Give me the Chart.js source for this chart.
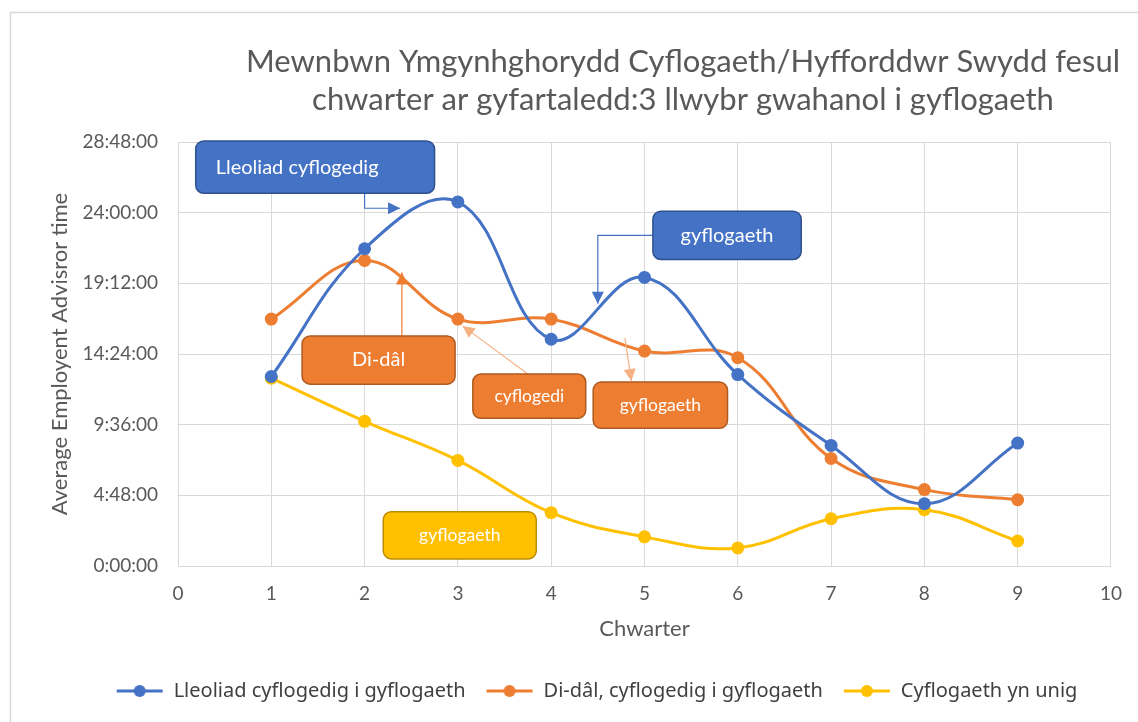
<!DOCTYPE html>
<html>
<head>
<meta charset="utf-8">
<script src="https://cdn.jsdelivr.net/npm/chart.js@4.4.1/dist/chart.umd.min.js"></script>
<style>
  html, body { margin: 0; padding: 0; background: #fff; }
  #wrap { position: relative; width: 1138px; height: 722px; }
</style>
</head>
<body>
<div id="wrap"><canvas id="quarterChart" width="1138" height="722"></canvas></div>
<script>
const quarters = [1, 2, 3, 4, 5, 6, 7, 8, 9];
// average advisor time per quarter, in hours
const lleoliadHours = [12.87, 21.55, 24.73, 15.4, 19.6, 13.0, 8.19, 4.23, 8.35];
const diDalHours = [16.77, 20.75, 16.77, 16.77, 14.6, 14.15, 7.3, 5.19, 4.5];
const unigHours = [12.76, 9.83, 7.17, 3.62, 1.98, 1.23, 3.21, 3.82, 1.7];

const seriesLabels = ["Lleoliad cyflogedig i gyflogaeth", "Di-dâl, cyflogedig i gyflogaeth", "Cyflogaeth yn unig"];
const titleLines = ["Mewnbwn Ymgynhghorydd Cyflogaeth/Hyfforddwr Swydd fesul", "chwarter ar gyfartaledd:3 llwybr gwahanol i gyflogaeth"];

const BLUE = '#4472C4';
const ORANGE = '#ED7D31';
const YELLOW = '#FFC000';
const TEXT = '#595959';
const FONT = 'Lato, "Open Sans", sans-serif';

// callout boxes in data units (x = quarter, y = hours)
const callouts = [
    { text: 'Lleoliad cyflogedig', box: [0.19, 2.75, 28.87, 25.32], fill: BLUE, stroke: '#2F528F', size: 20,
      leader: [[2.0, 25.32], [2.0, 24.3], [2.38, 24.3]], leaderColor: BLUE },
    { text: 'gyflogaeth', box: [5.09, 6.68, 24.1, 20.82], fill: BLUE, stroke: '#2F528F', size: 20,
      leader: [[5.09, 22.46], [4.5, 22.46], [4.5, 17.82]], leaderColor: BLUE },
    { text: 'Di-dâl', box: [1.33, 2.97, 15.63, 12.35], fill: ORANGE, stroke: '#AE5A21', size: 20,
      leader: [[2.4, 15.63], [2.4, 19.93]], leaderColor: ORANGE },
    { text: 'cyflogedi', box: [3.16, 4.37, 13.04, 10.03], fill: ORANGE, stroke: '#AE5A21', size: 17.5,
      leader: [[3.75, 13.04], [3.05, 16.31]], leaderColor: '#F4B183' },
    { text: 'gyflogaeth', box: [4.45, 5.89, 12.49, 9.35], fill: ORANGE, stroke: '#AE5A21', size: 17.5,
      leader: [[4.79, 15.49], [4.86, 12.56]], leaderColor: '#F4B183' },
    { text: 'gyflogaeth', box: [2.2, 3.84, 3.69, 0.48], fill: YELLOW, stroke: '#BC8C00', size: 17.5,
      leader: null }
];

function hms(v) {
    const s = Math.round(v * 3600);
    const h = Math.floor(s / 3600);
    const m = Math.floor((s % 3600) / 60);
    const sec = s % 60;
    return h + ':' + String(m).padStart(2, '0') + ':' + String(sec).padStart(2, '0');
}

function legendMarker(color) {
    const c = document.createElement('canvas');
    c.width = 48; c.height = 14;
    const g = c.getContext('2d');
    g.strokeStyle = color;
    g.lineWidth = 3;
    g.beginPath(); g.moveTo(1, 7); g.lineTo(47, 7); g.stroke();
    g.fillStyle = color;
    g.beginPath(); g.arc(24, 7, 6, 0, Math.PI * 2); g.fill();
    return c;
}
const markers = [legendMarker(BLUE), legendMarker(ORANGE), legendMarker(YELLOW)];

function toPoints(values) {
    return quarters.map((q, i) => ({ x: q, y: values[i] }));
}

function makeSet(label, values, color) {
    return {
        label: label,
        data: toPoints(values),
        borderColor: color,
        backgroundColor: color,
        borderWidth: 3,
        tension: 0.4,
        pointRadius: 6.5,
        pointHoverRadius: 6.5,
        pointBorderWidth: 0
    };
}

const framePlugin = {
    id: 'framePlugin',
    afterLayout(chart) {
        // legend sits a bit right of the canvas centre in the original
        chart.legend.left += 16;
        chart.legend.right += 16;
    },
    beforeDraw(chart) {
        const c = chart.ctx;
        c.save();
        c.strokeStyle = '#d9d9d9';
        c.lineWidth = 1.5;
        c.beginPath();
        c.moveTo(10.5, 722);
        c.lineTo(10.5, 12.5);
        c.lineTo(1138, 12.5);
        c.stroke();
        c.restore();
    },
    afterDraw(chart) {
        const c = chart.ctx;
        c.save();
        c.fillStyle = TEXT;
        c.font = '31px ' + FONT;
        c.textAlign = 'center';
        c.textBaseline = 'middle';
        c.fillText(titleLines[0], 683, 62);
        c.fillText(titleLines[1], 683, 100);
        c.restore();
    }
};

function arrowHead(c, from, to, color) {
    const ang = Math.atan2(to[1] - from[1], to[0] - from[0]);
    const len = 12, half = 6;
    c.fillStyle = color;
    c.beginPath();
    c.moveTo(to[0], to[1]);
    c.lineTo(to[0] - len * Math.cos(ang) + half * Math.sin(ang), to[1] - len * Math.sin(ang) - half * Math.cos(ang));
    c.lineTo(to[0] - len * Math.cos(ang) - half * Math.sin(ang), to[1] - len * Math.sin(ang) + half * Math.cos(ang));
    c.closePath();
    c.fill();
}

const calloutPlugin = {
    id: 'calloutPlugin',
    afterDatasetsDraw(chart) {
        const c = chart.ctx;
        const xs = chart.scales.x, ys = chart.scales.y;
        c.save();
        callouts.forEach(co => {
            if (co.leader) {
                const pts = co.leader.map(p => [xs.getPixelForValue(p[0]), ys.getPixelForValue(p[1])]);
                c.strokeStyle = co.leaderColor;
                c.lineWidth = 1.2;
                c.beginPath();
                pts.forEach((p, i) => i ? c.lineTo(p[0], p[1]) : c.moveTo(p[0], p[1]));
                c.stroke();
                arrowHead(c, pts[pts.length - 2], pts[pts.length - 1], co.leaderColor);
            }
            const x1 = xs.getPixelForValue(co.box[0]), x2 = xs.getPixelForValue(co.box[1]);
            const y1 = ys.getPixelForValue(co.box[2]), y2 = ys.getPixelForValue(co.box[3]);
            c.fillStyle = co.fill;
            c.strokeStyle = co.stroke;
            c.lineWidth = 1.5;
            c.beginPath();
            c.roundRect(x1, y1, x2 - x1, y2 - y1, 8);
            c.fill();
            c.stroke();
            c.fillStyle = '#fff';
            c.font = co.size + 'px ' + FONT;
            c.textBaseline = 'middle';
            c.textAlign = co.text === 'Lleoliad cyflogedig' ? 'left' : 'center';
            const tx = co.text === 'Lleoliad cyflogedig' ? x1 + 20 : (x1 + x2) / 2;
            c.fillText(co.text, tx, (y1 + y2) / 2);
        });
        c.restore();
    }
};

const chart = new Chart(document.getElementById('quarterChart').getContext('2d'), {
    type: 'line',
    data: {
        datasets: [
            makeSet(seriesLabels[0], lleoliadHours, BLUE),
            makeSet(seriesLabels[1], diDalHours, ORANGE),
            makeSet(seriesLabels[2], unigHours, YELLOW)
        ]
    },
    options: {
        responsive: false,
        animation: false,
        layout: {
            padding: { left: 45, right: 22, top: 142, bottom: 11 }
        },
        scales: {
            x: {
                type: 'linear',
                min: 0,
                max: 10,
                ticks: { stepSize: 1, color: TEXT, font: { family: FONT, size: 19 }, padding: 16 },
                grid: { color: '#d9d9d9', drawTicks: false },
                border: { color: '#d9d9d9' },
                title: { display: true, text: 'Chwarter', color: TEXT, font: { family: FONT, size: 22 }, padding: { top: 8, bottom: 19 } },
                afterFit(scale) { scale.height = 95; }
            },
            y: {
                min: 0,
                max: 28.8,
                ticks: { stepSize: 4.8, color: TEXT, font: { family: FONT, size: 19 }, padding: 20,
                    callback: v => hms(v) },
                grid: { color: '#d9d9d9', drawTicks: false },
                border: { color: '#d9d9d9' },
                title: { display: true, text: 'Average Employent Advisror time', color: TEXT, font: { family: FONT, size: 22 }, padding: { top: 2, bottom: 4 } },
                afterFit(scale) { scale.width = 133; }
            }
        },
        plugins: {
            legend: {
                position: 'bottom',
                labels: {
                    usePointStyle: true,
                    pointStyleWidth: 48,
                    padding: 20,
                    color: '#404040',
                    font: { family: '"Noto Sans", sans-serif', size: 20 },
                    generateLabels(ch) {
                        const items = Chart.defaults.plugins.legend.labels.generateLabels(ch);
                        items.forEach((it, i) => { it.pointStyle = markers[i]; });
                        return items;
                    }
                }
            },
            tooltip: { enabled: false }
        }
    },
    plugins: [framePlugin, calloutPlugin]
});
</script>
</body>
</html>
